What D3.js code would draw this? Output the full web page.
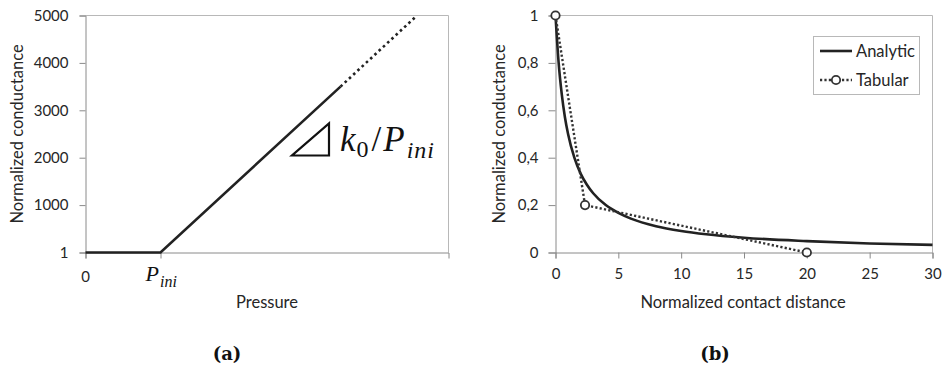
<!DOCTYPE html>
<html><head><meta charset="utf-8">
<script src="https://cdn.jsdelivr.net/npm/d3@7"></script>
<style>
body{margin:0;background:#fff;}
svg{display:block;}
</style></head>
<body>
<svg id="c" width="943" height="371"></svg>
<script>
// ---- Panel (a) data ----
const pressureSolid = [0, 1, 3.4];
const conductSolid = [1, 1, 3500];
const pressureDotted = [3.4, 4.42];
const conductDotted = [3500, 5000];
const aYTicks = [0, 1000, 2000, 3000, 4000, 5000];
const aYTickLabels = ["1", "1000", "2000", "3000", "4000", "5000"];
const aXTicks = [0, 1];
const aXTickLabels = ["0", "P_ini"];

// ---- Panel (b) data ----
const analyticX = [0, 0.25, 0.5, 0.75, 1, 1.5, 2, 2.5, 3, 4, 5, 6, 8, 10, 12, 15, 20, 25, 30];
const analyticY = [1, 0.8, 0.667, 0.571, 0.5, 0.4, 0.333, 0.286, 0.25, 0.2, 0.167, 0.143, 0.111, 0.091, 0.077, 0.0625, 0.048, 0.038, 0.032];
const tabularX = [0, 2.35, 20];
const tabularY = [1, 0.2, 0];
const bXTicks = [0, 5, 10, 15, 20, 25, 30];
const bYTicks = [0, 0.2, 0.4, 0.6, 0.8, 1];
const bYTickLabels = ["0", "0,2", "0,4", "0,6", "0,8", "1"];
const seriesNames = ["Analytic", "Tabular"];

const svg = d3.select("#c");
const sans = "Lato, 'Open Sans', sans-serif";
const serif = "'Liberation Serif', 'DejaVu Serif', serif";
const lineCol = "#222";
const axisCol = "#8a8a8a";
const frameCol = "#b8b8b8";
const textCol = "#262626";
const tickFs = 15;
const titleFs = 16.5;

function frame(g, x0, x1, y0, y1) {
  g.append("line").attr("x1", x0).attr("x2", x1).attr("y1", y0).attr("y2", y0).attr("stroke", frameCol);
  g.append("line").attr("x1", x1).attr("x2", x1).attr("y1", y0).attr("y2", y1).attr("stroke", frameCol);
}

// ================= Panel (a) =================
{
  const xa = d3.scaleLinear().domain([0, 4.84]).range([85.5, 448.5]);
  const ya = d3.scaleLinear().domain([0, 5000]).range([252.5, 15.5]);
  const g = svg.append("g");
  frame(g, 85.5, 448.5, 15.5, 252.5);

  const yAxis = d3.axisLeft(ya).tickValues(aYTicks).tickSize(6).tickPadding(11)
    .tickFormat((d, i) => aYTickLabels[i]);
  const gy = g.append("g").attr("transform", "translate(85.5,0)").call(yAxis);
  gy.select(".domain").attr("stroke", axisCol);
  gy.selectAll(".tick line").attr("stroke", axisCol);
  gy.selectAll("text").attr("font-family", sans).attr("font-size", tickFs).attr("fill", textCol);

  const xAxis = d3.axisBottom(xa).tickValues(aXTicks).tickSize(6).tickFormat(() => "");
  const gx = g.append("g").attr("transform", "translate(0,252.5)").call(xAxis);
  gx.select(".domain").attr("stroke", axisCol);
  gx.selectAll(".tick line").attr("stroke", axisCol);
  // tick labels
  g.append("text").attr("x", xa(aXTicks[0])).attr("y", 282).attr("text-anchor", "middle")
    .attr("font-family", sans).attr("font-size", tickFs).attr("fill", textCol).text(aXTickLabels[0]);
  const p = g.append("text").attr("x", xa(aXTicks[1]) - 15).attr("y", 281)
    .attr("font-family", serif).attr("font-style", "italic").attr("font-size", 22).attr("fill", "#111");
  p.append("tspan").text("P");
  p.append("tspan").attr("font-size", 16).attr("dy", 6).attr("dx", 1).text("ini");

  const line = d3.line().x(d => xa(d[0])).y(d => ya(d[1]));
  g.append("path").datum(d3.zip(pressureSolid, conductSolid)).attr("d", line)
    .attr("fill", "none").attr("stroke", lineCol).attr("stroke-width", 2.6);
  g.append("path").datum(d3.zip(pressureDotted, conductDotted)).attr("d", line)
    .attr("fill", "none").attr("stroke", lineCol).attr("stroke-width", 2.6)
    .attr("stroke-dasharray", "2.6,3.2");

  // slope triangle
  g.append("path").attr("d", "M292,155.5 L329,155.5 L329,123.5 Z")
    .attr("fill", "none").attr("stroke", "#111").attr("stroke-width", 2.2).attr("stroke-linejoin", "miter");
  const t = g.append("text").attr("x", 340).attr("y", 151)
    .attr("font-family", serif).attr("font-size", 35).attr("fill", "#111");
  t.append("tspan").attr("font-style", "italic").text("k");
  t.append("tspan").attr("font-size", 24).attr("dy", 6).attr("dx", 1).text("0");
  t.append("tspan").attr("dy", -6).attr("dx", 3).text("/");
  t.append("tspan").attr("font-style", "italic").attr("dx", 2).text("P");
  t.append("tspan").attr("font-style", "italic").attr("font-size", 24).attr("dy", 7).attr("dx", 2)
    .attr("letter-spacing", 1).text("ini");

  g.append("text").attr("transform", "translate(23,134) rotate(-90)").attr("text-anchor", "middle")
    .attr("font-family", sans).attr("font-size", titleFs).attr("fill", textCol).text("Normalized conductance");
  g.append("text").attr("x", 267).attr("y", 308).attr("text-anchor", "middle")
    .attr("font-family", sans).attr("font-size", titleFs).attr("fill", textCol).text("Pressure");
  g.append("text").attr("x", 227).attr("y", 360).attr("text-anchor", "middle")
    .attr("font-family", "'DejaVu Serif', serif").attr("font-weight", "bold").attr("font-size", 18).attr("fill", "#111").text("(a)");
}

// ================= Panel (b) =================
{
  const xb = d3.scaleLinear().domain([0, 30]).range([555.5, 932.5]);
  const yb = d3.scaleLinear().domain([0, 1]).range([252.5, 15.5]);
  const g = svg.append("g");
  frame(g, 555.5, 932.5, 15.5, 252.5);

  const yAxis = d3.axisLeft(yb).tickValues(bYTicks).tickSize(7).tickPadding(10)
    .tickFormat((d, i) => bYTickLabels[i]);
  const gy = g.append("g").attr("transform", "translate(555.5,0)").call(yAxis);
  gy.select(".domain").attr("stroke", axisCol);
  gy.selectAll(".tick line").attr("stroke", axisCol);
  gy.selectAll("text").attr("font-family", sans).attr("font-size", tickFs).attr("fill", textCol);

  const xAxis = d3.axisBottom(xb).tickValues(bXTicks).tickSize(6).tickPadding(10).tickFormat(d3.format("d"));
  const gx = g.append("g").attr("transform", "translate(0,252.5)").call(xAxis);
  gx.select(".domain").attr("stroke", axisCol);
  gx.selectAll(".tick line").attr("stroke", axisCol);
  gx.selectAll("text").attr("font-family", sans).attr("font-size", tickFs).attr("fill", textCol);

  const line = d3.line().x(d => xb(d[0])).y(d => yb(d[1]));
  g.append("path").datum(d3.zip(analyticX, analyticY)).attr("d", line.curve(d3.curveMonotoneX))
    .attr("fill", "none").attr("stroke", lineCol).attr("stroke-width", 2.6);
  const line2 = d3.line().x(d => xb(d[0])).y(d => yb(d[1]));
  g.append("path").datum(d3.zip(tabularX, tabularY)).attr("d", line2)
    .attr("fill", "none").attr("stroke", "#333").attr("stroke-width", 2.4)
    .attr("stroke-dasharray", "2.2,2.2");
  g.selectAll("circle.tab").data(d3.zip(tabularX, tabularY)).join("circle").attr("class", "tab")
    .attr("cx", d => xb(d[0])).attr("cy", d => yb(d[1])).attr("r", 4.2)
    .attr("fill", "#fff").attr("stroke", "#333").attr("stroke-width", 1.8);

  // legend
  const lg = g.append("g");
  lg.append("rect").attr("x", 813.5).attr("y", 36.5).attr("width", 106).attr("height", 58)
    .attr("fill", "#fff").attr("stroke", frameCol);
  lg.append("line").attr("x1", 820).attr("x2", 852).attr("y1", 51).attr("y2", 51)
    .attr("stroke", lineCol).attr("stroke-width", 2.6);
  lg.append("text").attr("x", 856).attr("y", 57).attr("font-family", sans).attr("font-size", titleFs)
    .attr("fill", textCol).text(seriesNames[0]);
  lg.append("line").attr("x1", 820).attr("x2", 852).attr("y1", 80).attr("y2", 80)
    .attr("stroke", "#333").attr("stroke-width", 2.4).attr("stroke-dasharray", "2.2,2.2");
  lg.append("circle").attr("cx", 836).attr("cy", 80).attr("r", 4.2)
    .attr("fill", "#fff").attr("stroke", "#333").attr("stroke-width", 1.8);
  lg.append("text").attr("x", 856).attr("y", 86).attr("font-family", sans).attr("font-size", titleFs)
    .attr("fill", textCol).text(seriesNames[1]);

  g.append("text").attr("transform", "translate(505,134) rotate(-90)").attr("text-anchor", "middle")
    .attr("font-family", sans).attr("font-size", titleFs).attr("fill", textCol).text("Normalized conductance");
  g.append("text").attr("x", 743).attr("y", 308).attr("text-anchor", "middle")
    .attr("font-family", sans).attr("font-size", titleFs).attr("fill", textCol).text("Normalized contact distance");
  g.append("text").attr("x", 715).attr("y", 360).attr("text-anchor", "middle")
    .attr("font-family", "'DejaVu Serif', serif").attr("font-weight", "bold").attr("font-size", 18).attr("fill", "#111").text("(b)");
}
</script>
</body></html>
